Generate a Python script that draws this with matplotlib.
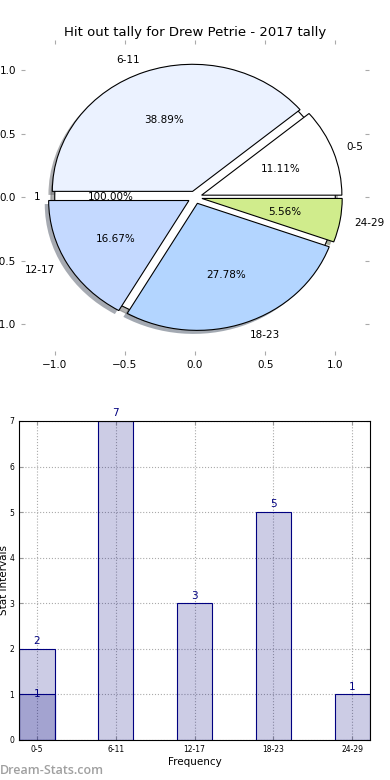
import numpy as np
import matplotlib
matplotlib.use("Agg")
import matplotlib.pyplot as plt

# data
intervals = ['0-5', '6-11', '12-17', '18-23', '24-29']
tally = [2, 7, 3, 5, 1]
extra_label = ['1']
extra_value = [1]
pie_colors = ['#ffffff', '#ebf2ff', '#c4d9ff', '#b3d5ff', '#d0ec8c']

fig = plt.figure(figsize=(3.9, 7.8), dpi=100)

# pie
ax1 = fig.add_axes([0.054, 0.545, 0.892, 0.404])
explode = [0.05] * len(tally)
# shadows of the main wedges, kept underneath the background circle
ax1.pie(tally, colors=pie_colors, explode=explode, shadow={'shade': 0.6},
        wedgeprops=dict(linewidth=0, zorder=0.5))
ax1.pie(extra_value, labels=extra_label, autopct='%1.2f%%', colors=['white'],
        shadow={'shade': 0.6},
        wedgeprops=dict(edgecolor='black', linewidth=0.8, zorder=0.95),
        textprops=dict(fontsize=7.5))
ax1.pie(tally, labels=intervals, autopct='%1.2f%%', colors=pie_colors,
        explode=explode,
        wedgeprops=dict(edgecolor='black', linewidth=0.8),
        textprops=dict(fontsize=7.5))
ax1.set_aspect('auto')
ax1.set_xlim(-1.24, 1.24)
ax1.set_ylim(-1.24, 1.24)
ax1.set_xticks([-1.0, -0.5, 0.0, 0.5, 1.0])
ax1.set_yticks([-1.0, -0.5, 0.0, 0.5, 1.0])
for s in ax1.spines.values():
    s.set_visible(False)
ax1.tick_params(direction='in', length=3, color='#aaaaaa', labelsize=7.5,
                top=True, right=True, labelcolor='black')
ax1.set_title('Hit out tally for Drew Petrie - 2017 tally', fontsize=9.5, pad=3)

# bars
ax2 = fig.add_axes([0.049, 0.0513, 0.9, 0.409])
x = np.arange(len(intervals))
w = 0.45
ax2.bar(x[:1], extra_value, w, color='navy', alpha=0.2, edgecolor='none')
ax2.bar(x[:1], extra_value, w, color='none', edgecolor='navy', linewidth=0.8)
ax2.bar(x, tally, w, color='navy', alpha=0.2, edgecolor='none')
ax2.bar(x, tally, w, color='none', edgecolor='navy', linewidth=0.8)
for xi, v in zip(x, tally):
    ax2.text(xi, v + 0.06, str(v), ha='center', va='bottom', color='navy', fontsize=7.5)
ax2.text(x[0], extra_value[0], str(extra_value[0]), ha='center', va='center',
         color='navy', fontsize=7.5)
ax2.set_xlim(-w / 2, len(intervals) - 1 + w / 2)
ax2.set_ylim(0, 7)
ax2.set_xticks(x)
ax2.set_xticklabels(intervals)
ax2.set_yticks(range(8))
ax2.tick_params(direction='in', length=3, labelsize=5.5, top=True, right=True,
                color='#999999')
ax2.grid(True, linestyle=':', color='#aaaaaa', linewidth=0.8)
ax2.set_axisbelow(True)
ax2.set_xlabel('Frequency', fontsize=7.5, labelpad=2)
ax2.set_ylabel('Stat Intervals', fontsize=7.5, labelpad=0)

fig.text(0.0, 0.0075, 'Dream-Stats.com', fontsize=9, color='#a0a0a0',
         family=['Open Sans', 'DejaVu Sans'], fontweight='semibold')

fig.savefig('out.png', dpi=100)
